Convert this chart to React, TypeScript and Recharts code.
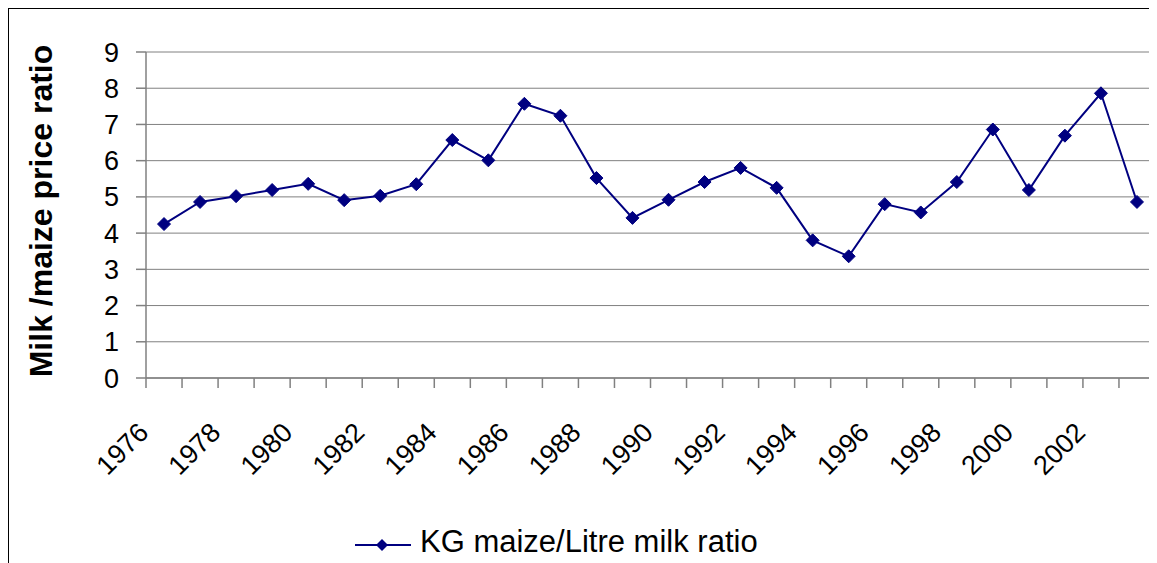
import React from 'react';
import { LineChart, Line, XAxis, YAxis, CartesianGrid, Legend } from 'recharts';

const years = [
  1976, 1977, 1978, 1979, 1980, 1981, 1982, 1983, 1984, 1985, 1986, 1987, 1988, 1989,
  1990, 1991, 1992, 1993, 1994, 1995, 1996, 1997, 1998, 1999, 2000, 2001, 2002, 2003,
];
const ratio = [
  4.25, 4.86, 5.02, 5.19, 5.36, 4.91, 5.03, 5.35, 6.57, 6.01, 7.57, 7.24, 5.52, 4.42,
  4.92, 5.41, 5.8, 5.25, 3.8, 3.36, 4.8, 4.57, 5.41, 6.86, 5.19, 6.69, 7.86, 4.86,
];
const labelYears = [1976, 1978, 1980, 1982, 1984, 1986, 1988, 1990, 1992, 1994, 1996, 1998, 2000, 2002];
const yTicks = [0, 1, 2, 3, 4, 5, 6, 7, 8, 9];

const seriesName = 'KG maize/Litre milk ratio';
const navy = '#000080';
const grey = '#808080';
const font = '"Liberation Sans", Arial, sans-serif';

const data = years.map((year, i) => ({ year, ratio: ratio[i] }));
// category boundaries for the tick marks
const boundaryTicks = [...years.map((y) => y - 0.5), years[years.length - 1] + 0.5];
const xDomain = [boundaryTicks[0], boundaryTicks[boundaryTicks.length - 1]];

const Diamond = (props: any) => {
  const { cx, cy } = props;
  if (cx == null || cy == null) return null;
  const r = 6.5;
  return (
    <path
      d={`M${cx},${cy - r}L${cx + r},${cy}L${cx},${cy + r}L${cx - r},${cy}Z`}
      fill={navy}
      stroke={navy}
      strokeWidth={1}
    />
  );
};

const NoLabel = () => <g />;

const YearTick = (props: any) => {
  const { x, y, payload } = props;
  return (
    <g transform={`translate(${x - 14},${y + 46})`}>
      <text textAnchor="end" transform="rotate(-45)" fontSize={27} fontFamily={font} fill="#000">
        {payload.value}
      </text>
    </g>
  );
};

const YTitle = (props: any) => {
  const { viewBox } = props;
  const cx = viewBox.x + 32;
  const cy = viewBox.y + viewBox.height / 2 - 4;
  return (
    <text
      x={cx}
      y={cy}
      transform={`rotate(-90, ${cx}, ${cy})`}
      textAnchor="middle"
      dominantBaseline="central"
      fontSize={32}
      fontWeight="bold"
      fontFamily={font}
      fill="#000"
    >
      Milk /maize price ratio
    </text>
  );
};

const LegendContent = () => (
  <div style={{ display: 'flex', alignItems: 'center', height: 40, fontFamily: font }}>
    <svg width={60} height={40}>
      <line x1={0} y1={20} x2={56} y2={20} stroke={navy} strokeWidth={2} />
      <path d="M27,14L33,20L27,26L21,20Z" fill={navy} />
    </svg>
    <span style={{ fontSize: 31, lineHeight: '40px', marginLeft: 5, position: 'relative', top: -3, color: '#000' }}>
      {seriesName}
    </span>
  </div>
);

export default function App() {
  return (
    <div
      style={{
        width: 1148,
        height: 554,
        borderLeft: '1px solid #000',
        borderTop: '1px solid #000',
        background: '#fff',
      }}
    >
      <LineChart width={1148} height={554} data={data} margin={{ top: 43, right: 2, left: 0, bottom: 0 }}>
        <CartesianGrid vertical={false} stroke={grey} strokeWidth={1} />
        <XAxis
          xAxisId="bounds"
          dataKey="year"
          type="number"
          domain={xDomain}
          ticks={boundaryTicks}
          interval={0}
          tick={<NoLabel />}
          tickSize={10}
          height={10}
          axisLine={{ stroke: grey, strokeWidth: 1.5 }}
          tickLine={{ stroke: grey, strokeWidth: 1.5 }}
        />
        <XAxis
          xAxisId="labels"
          dataKey="year"
          type="number"
          domain={xDomain}
          ticks={labelYears}
          interval={0}
          tick={<YearTick />}
          tickSize={0}
          tickMargin={0}
          height={175}
          axisLine={false}
          tickLine={false}
        />
        <YAxis
          width={137}
          domain={[0, 9]}
          ticks={yTicks}
          interval={0}
          tickSize={10}
          tickMargin={17}
          tick={{ fontSize: 27, fill: '#000', fontFamily: font }}
          axisLine={{ stroke: grey, strokeWidth: 1.5 }}
          tickLine={{ stroke: grey, strokeWidth: 1.5 }}
          label={<YTitle />}
        />
        <Legend
          verticalAlign="middle"
          align="center"
          layout="horizontal"
          content={<LegendContent />}
          wrapperStyle={{ left: 346, top: 516, width: 'auto', height: 40 }}
        />
        <Line
          xAxisId="bounds"
          type="linear"
          dataKey="ratio"
          name={seriesName}
          stroke={navy}
          strokeWidth={2}
          dot={<Diamond />}
          activeDot={false}
          isAnimationActive={false}
        />
      </LineChart>
    </div>
  );
}
